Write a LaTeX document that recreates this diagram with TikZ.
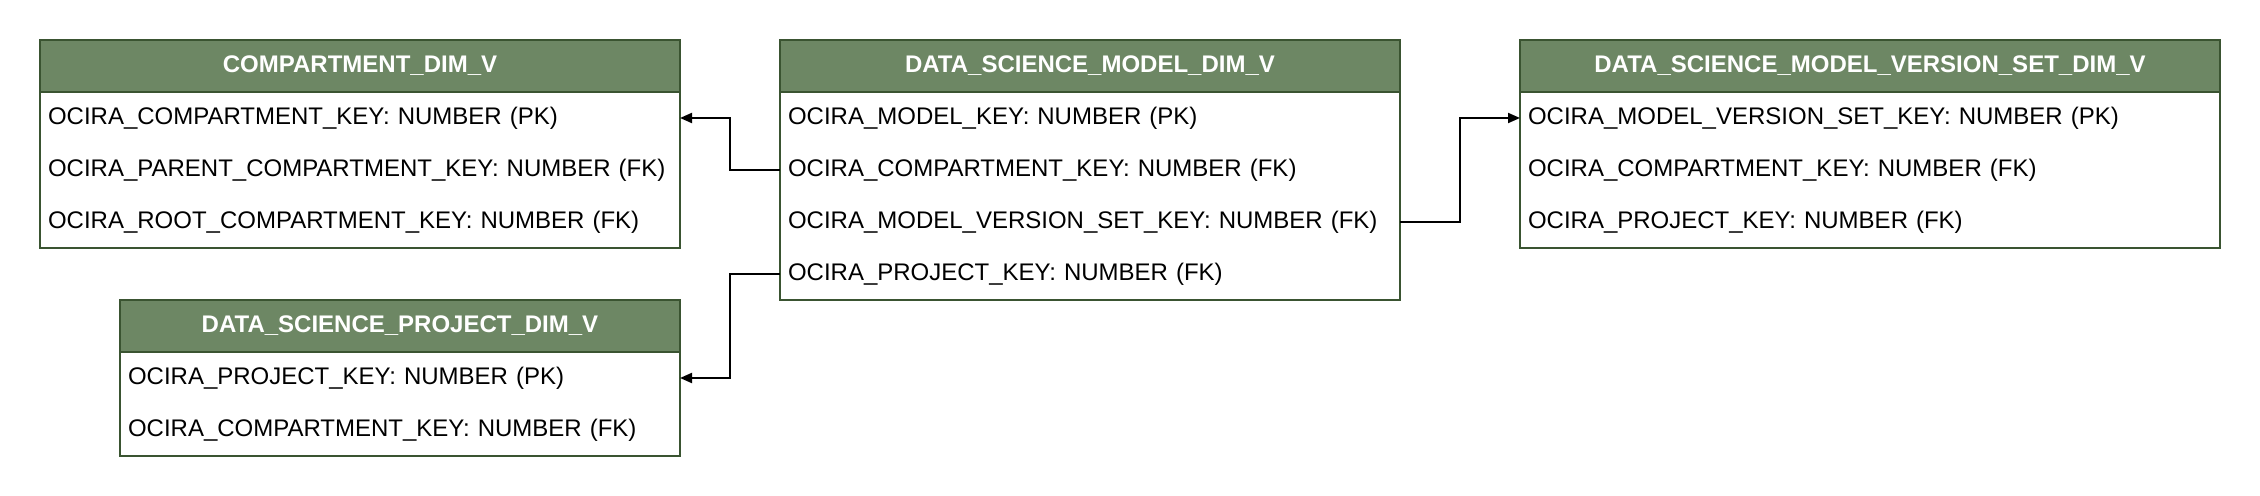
\documentclass[tikz,border=0pt]{standalone}
\usepackage{fontspec}
\setmainfont{Liberation Sans}
\usetikzlibrary{arrows.meta,positioning}
\definecolor{hdrfill}{HTML}{6D8764}
\definecolor{hdrline}{HTML}{3A5431}

\begin{document}
\begin{tikzpicture}[x=1pt, y=-1pt,
    font=\fontsize{12}{14}\selectfont,
    table/.style={draw=hdrline, line width=1pt, fill=hdrfill, text=white,
        font=\fontsize{12}{14}\selectfont\bfseries, anchor=north west,
        minimum height=26pt, inner sep=0, outer sep=0},
    field/.style={anchor=north west, text width=#1, align=left,
        minimum height=26pt, inner xsep=4pt, inner ysep=0, outer sep=0},
    body/.style={draw=hdrline, line width=1pt},
    link/.style={line width=1pt, -{Triangle[length=6pt, width=5pt]}}]

    \useasboundingbox (0,0) rectangle (1130,248);

    % Compartments
    \node[table, minimum width=320pt] (comp) at (20,20) {COMPARTMENT\_DIM\_V};
    \node[field=312pt] (comp-1) at (comp.south west)
    {OCIRA\_COMPARTMENT\_KEY: NUMBER (PK)};
    \node[field=312pt] (comp-2) at (comp-1.south west)
    {OCIRA\_PARENT\_COMPARTMENT\_KEY: NUMBER (FK)};
    \node[field=312pt] (comp-3) at (comp-2.south west)
    {OCIRA\_ROOT\_COMPARTMENT\_KEY: NUMBER (FK)};
    \draw[body] (comp.south west) rectangle (comp-3.south east);

    % Models
    \node[table, minimum width=310pt] (model) at (390,20) {DATA\_SCIENCE\_MODEL\_DIM\_V};
    \node[field=302pt] (model-1) at (model.south west)
    {OCIRA\_MODEL\_KEY: NUMBER (PK)};
    \node[field=302pt] (model-2) at (model-1.south west)
    {OCIRA\_COMPARTMENT\_KEY: NUMBER (FK)};
    \node[field=302pt] (model-3) at (model-2.south west)
    {OCIRA\_MODEL\_VERSION\_SET\_KEY: NUMBER (FK)};
    \node[field=302pt] (model-4) at (model-3.south west)
    {OCIRA\_PROJECT\_KEY: NUMBER (FK)};
    \draw[body] (model.south west) rectangle (model-4.south east);

    % Model version sets
    \node[table, minimum width=350pt] (mvs) at (760,20) {DATA\_SCIENCE\_MODEL\_VERSION\_SET\_DIM\_V};
    \node[field=342pt] (mvs-1) at (mvs.south west)
    {OCIRA\_MODEL\_VERSION\_SET\_KEY: NUMBER (PK)};
    \node[field=342pt] (mvs-2) at (mvs-1.south west)
    {OCIRA\_COMPARTMENT\_KEY: NUMBER (FK)};
    \node[field=342pt] (mvs-3) at (mvs-2.south west)
    {OCIRA\_PROJECT\_KEY: NUMBER (FK)};
    \draw[body] (mvs.south west) rectangle (mvs-3.south east);

    % Projects
    \node[table, minimum width=280pt] (proj) at (60,150) {DATA\_SCIENCE\_PROJECT\_DIM\_V};
    \node[field=272pt] (proj-1) at (proj.south west)
    {OCIRA\_PROJECT\_KEY: NUMBER (PK)};
    \node[field=272pt] (proj-2) at (proj-1.south west)
    {OCIRA\_COMPARTMENT\_KEY: NUMBER (FK)};
    \draw[body] (proj.south west) rectangle (proj-2.south east);

    % Keys
    \draw[link] (model-2.west) -- ++(-25,0) |- (comp-1.east);
    \draw[link] (model-4.west) -- ++(-25,0) |- (proj-1.east);
    \draw[link] (model-3.east) -- ++(30,0) |- (mvs-1.west);

\end{tikzpicture}
\end{document}
